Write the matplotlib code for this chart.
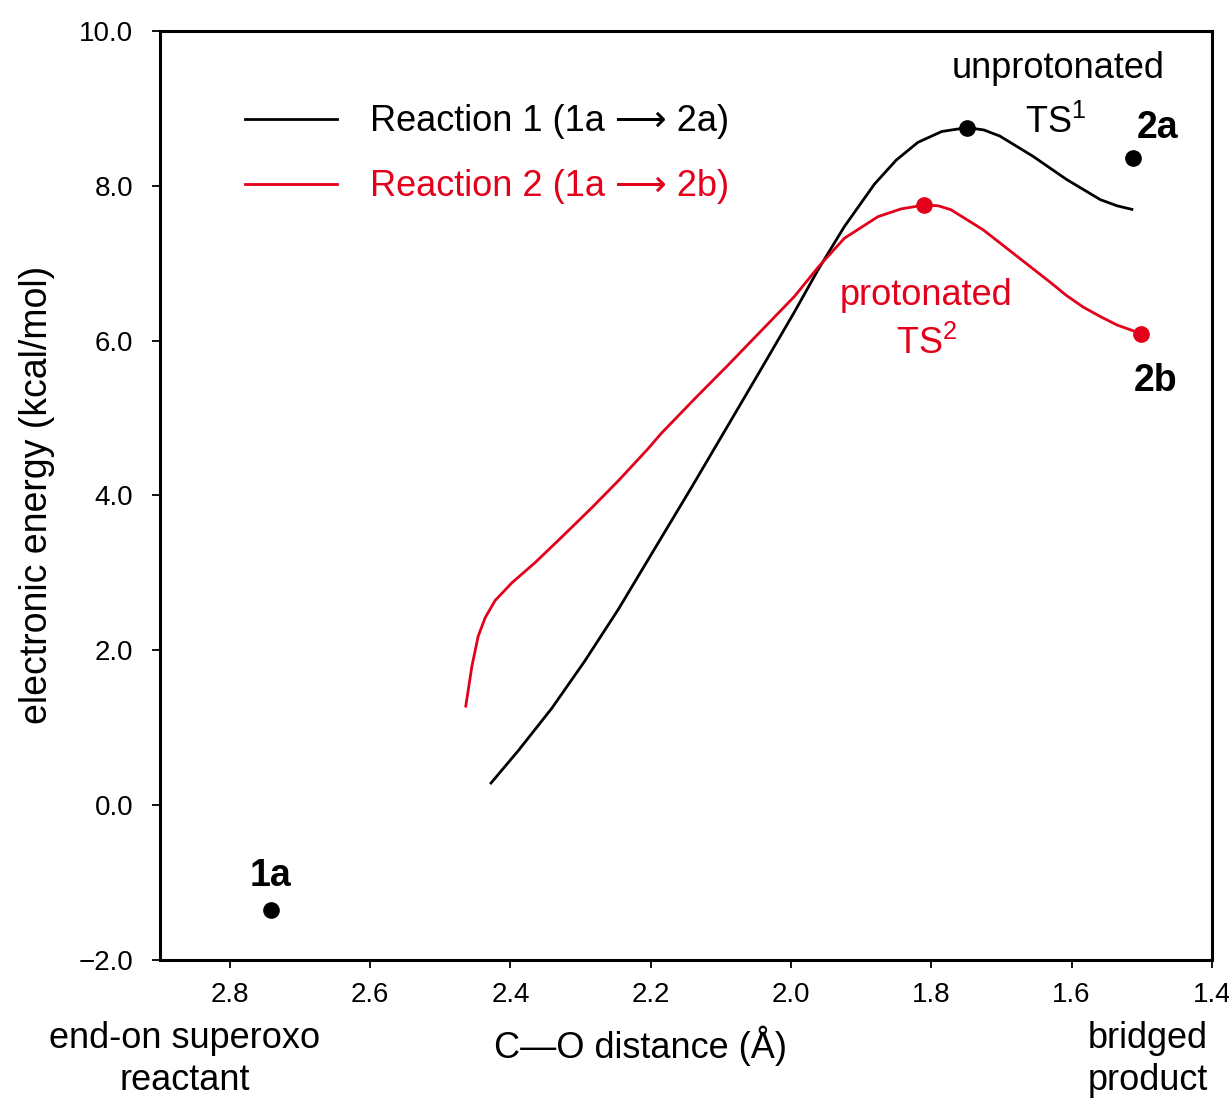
import matplotlib
matplotlib.use("Agg")
import matplotlib.pyplot as plt
from matplotlib.lines import Line2D

plt.rcParams['font.family'] = ['Liberation Sans', 'DejaVu Sans']

# ---- data ----
r1_x = [2.429, 2.389, 2.341, 2.294, 2.246, 2.199, 2.142, 2.090, 2.042, 1.995,
        1.961, 1.924, 1.881, 1.850, 1.819, 1.785, 1.749, 1.725, 1.702, 1.655,
        1.607, 1.559, 1.535, 1.512]
r1_y = [0.27, 0.70, 1.25, 1.86, 2.53, 3.24, 4.10, 4.90, 5.64, 6.37,
        6.92, 7.47, 8.02, 8.33, 8.56, 8.70, 8.75, 8.72, 8.64, 8.38,
        8.08, 7.82, 7.74, 7.69]

r2_x = [2.464, 2.455, 2.446, 2.436, 2.422, 2.398, 2.365, 2.327, 2.284, 2.246,
        2.204, 2.185, 2.137, 2.090, 2.042, 1.995, 1.961, 1.924, 1.876, 1.843,
        1.810, 1.790, 1.772, 1.726, 1.678, 1.630, 1.607, 1.583, 1.559, 1.535,
        1.501]
r2_y = [1.26, 1.79, 2.18, 2.42, 2.64, 2.87, 3.13, 3.46, 3.84, 4.19,
        4.60, 4.80, 5.25, 5.68, 6.13, 6.57, 6.95, 7.32, 7.60, 7.70,
        7.75, 7.74, 7.69, 7.43, 7.09, 6.75, 6.58, 6.43, 6.31, 6.20,
        6.09]

black_pts_x = [2.742, 1.749, 1.513]   # 1a, TS1, 2a
black_pts_y = [-1.36, 8.75, 8.36]
red_pts_x = [1.810, 1.501]            # TS2, 2b
red_pts_y = [7.75, 6.09]

x_ticks = [2.8, 2.6, 2.4, 2.2, 2.0, 1.8, 1.6, 1.4]
y_ticks = [-2.0, 0.0, 2.0, 4.0, 6.0, 8.0, 10.0]
legend_labels = ["Reaction 1 (1a \u27f6 2a)", "Reaction 2 (1a \u27f6 2b)"]

RED = '#e3001b'

fig = plt.figure(figsize=(12.29, 11.02), dpi=100)
ax = fig.add_axes([0.130, 0.129, 0.856, 0.843])

ax.plot(r1_x, r1_y, color='black', lw=2.0, solid_capstyle='butt', solid_joinstyle='round')
ax.plot(r2_x, r2_y, color=RED, lw=2.0, solid_capstyle='butt', solid_joinstyle='round')
ax.plot(black_pts_x, black_pts_y, 'o', color='black', ms=11, zorder=5)
ax.plot(red_pts_x, red_pts_y, 'o', color=RED, ms=11, zorder=5)

ax.set_xlim(2.9, 1.4)
ax.set_ylim(-2.0, 10.0)
ax.set_xticks(x_ticks)
ax.set_xticklabels([f"{v:.1f}" for v in x_ticks])
ax.set_yticks(y_ticks)
ax.set_yticklabels([f"{v:.1f}".replace('-', '\u2212') for v in y_ticks])
ax.tick_params(axis='both', direction='out', length=6, width=1.3, labelsize=20)
ax.tick_params(axis='y', pad=13)
ax.tick_params(axis='x', pad=10)
for s in ax.spines.values():
    s.set_linewidth(2.2)

ax.set_ylabel("electronic energy (kcal/mol)", fontsize=27)
ax.yaxis.set_label_coords(-0.100, 0.5)

# annotations
ax.text(2.742, -0.92, "1a", fontsize=27, fontweight='bold', ha='center', va='center')
ax.text(1.477, 8.75, "2a", fontsize=27, fontweight='bold', ha='center', va='center')
ax.text(1.480, 5.48, "2b", fontsize=27, fontweight='bold', ha='center', va='center')
ax.text(1.619, 9.51, "unprotonated", fontsize=26, ha='center', va='center')
ax.text(1.623, 8.81, "TS$^{\\mathregular{1}}$", fontsize=26, ha='center', va='center')
ax.text(1.807, 6.58, "protonated", fontsize=26, color=RED, ha='center', va='center')
ax.text(1.807, 5.95, "TS$^{\\mathregular{2}}$", fontsize=26, color=RED, ha='center', va='center')

# legend
handles = [Line2D([], [], color='black', lw=2.0), Line2D([], [], color=RED, lw=2.0)]
leg = ax.legend(handles, legend_labels, loc='upper left', bbox_to_anchor=(0.081, 0.921),
                frameon=False, fontsize=26, handlelength=2.55, handletextpad=0.9,
                labelspacing=0.83, borderpad=0, borderaxespad=0)
leg.get_texts()[0].set_color('black')
leg.get_texts()[1].set_color(RED)

# bottom labels
fig.text(185/1229, 1 - 1038/1102, "end-on superoxo", fontsize=26, ha='center', va='center')
fig.text(185/1229, 1 - 1081/1102, "reactant", fontsize=26, ha='center', va='center')
fig.text(640/1229, 1 - 1046/1102, "C\u2014O distance (\u00c5)", fontsize=26, ha='center', va='center')
fig.text(1148/1229, 1 - 1038/1102, "bridged", fontsize=26, ha='center', va='center')
fig.text(1148/1229, 1 - 1081/1102, "product", fontsize=26, ha='center', va='center')

fig.savefig("out.png", dpi=100)
